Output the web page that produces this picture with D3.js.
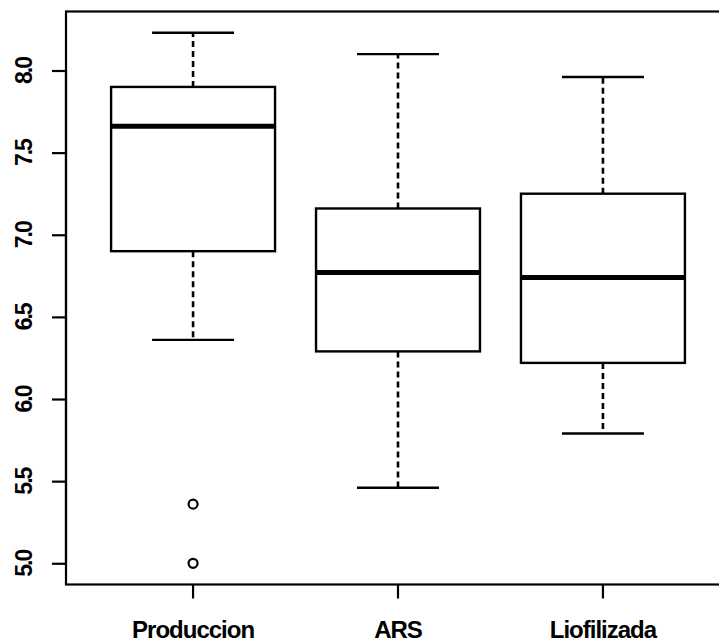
<!DOCTYPE html>
<html>
<head>
<meta charset="utf-8">
<script src="https://cdn.jsdelivr.net/npm/d3@7"></script>
<style>
  body { margin: 0; background: #fff; }
  text { font-family: "Liberation Sans", Arial, sans-serif; fill: #000; }
</style>
</head>
<body>
<svg id="chart" width="719" height="644"></svg>
<script>
// values
var categories = ['Produccion', 'ARS', 'Liofilizada'];
var whiskerLow = [6.36, 5.46, 5.79];
var q1 = [6.90, 6.29, 6.22];
var median = [7.66, 6.77, 6.74];
var q3 = [7.90, 7.16, 7.25];
var whiskerHigh = [8.23, 8.10, 7.96];
var outliers = [[5.36, 5.00], [], []];
var yTicks = [5.0, 5.5, 6.0, 6.5, 7.0, 7.5, 8.0];

var svg = d3.select('#chart');

var plot = {l: 66, r: 730, t: 11.5, b: 584.5};

var boxes = categories.map(function(c, i) {
  return {cat: c, lo: whiskerLow[i], q1: q1[i], med: median[i], q3: q3[i], hi: whiskerHigh[i], out: outliers[i]};
});

// R style 4% extension of the data range
var allVals = d3.merge([whiskerLow, whiskerHigh, d3.merge(outliers)]);
var ext = d3.extent(allVals);
var pad = (ext[1] - ext[0]) * 0.04;

var x = d3.scaleBand().domain(categories).range([plot.l, plot.r])
  .paddingInner(0.2).paddingOuter(0.22);
var y = d3.scaleLinear().domain([ext[0] - pad, ext[1] + pad]).range([plot.b, plot.t]);

var bw = x.bandwidth();
function cx(d) { return x(d.cat) + bw / 2; }

// frame
svg.append('rect')
  .attr('x', plot.l).attr('y', plot.t)
  .attr('width', plot.r - plot.l).attr('height', plot.b - plot.t)
  .attr('fill', 'none').attr('stroke', '#000').attr('stroke-width', 2.2);

var g = svg.selectAll('.box').data(boxes).enter().append('g').attr('class', 'box');

// whiskers (dashed)
g.append('line')
  .attr('x1', cx).attr('x2', cx)
  .attr('y1', function(d) { return y(d.q3); }).attr('y2', function(d) { return y(d.hi); })
  .attr('stroke', '#000').attr('stroke-width', 2.6).attr('stroke-dasharray', '6,4');
g.append('line')
  .attr('x1', cx).attr('x2', cx)
  .attr('y1', function(d) { return y(d.q1); }).attr('y2', function(d) { return y(d.lo); })
  .attr('stroke', '#000').attr('stroke-width', 2.6).attr('stroke-dasharray', '6,4');

// staples
g.append('line')
  .attr('x1', function(d) { return cx(d) - bw / 4; }).attr('x2', function(d) { return cx(d) + bw / 4; })
  .attr('y1', function(d) { return y(d.hi); }).attr('y2', function(d) { return y(d.hi); })
  .attr('stroke', '#000').attr('stroke-width', 2.4);
g.append('line')
  .attr('x1', function(d) { return cx(d) - bw / 4; }).attr('x2', function(d) { return cx(d) + bw / 4; })
  .attr('y1', function(d) { return y(d.lo); }).attr('y2', function(d) { return y(d.lo); })
  .attr('stroke', '#000').attr('stroke-width', 2.4);

// box
g.append('rect')
  .attr('x', function(d) { return x(d.cat); })
  .attr('y', function(d) { return y(d.q3); })
  .attr('width', bw)
  .attr('height', function(d) { return y(d.q1) - y(d.q3); })
  .attr('fill', '#fff').attr('stroke', '#000').attr('stroke-width', 2.4);

// median
g.append('line')
  .attr('x1', function(d) { return x(d.cat); }).attr('x2', function(d) { return x(d.cat) + bw; })
  .attr('y1', function(d) { return y(d.med); }).attr('y2', function(d) { return y(d.med); })
  .attr('stroke', '#000').attr('stroke-width', 5);

// outliers
g.selectAll('circle').data(function(d) { return d.out.map(function(v) { return {cat: d.cat, v: v}; }); })
  .enter().append('circle')
  .attr('cx', cx).attr('cy', function(d) { return y(d.v); })
  .attr('r', 4.5).attr('fill', 'none').attr('stroke', '#000').attr('stroke-width', 2.2);

// y axis
var yAxis = d3.axisLeft(y).tickValues(yTicks).tickSize(14).tickFormat(d3.format('.1f'));
var ya = svg.append('g').attr('transform', 'translate(' + plot.l + ',0)').call(yAxis);
ya.select('.domain').attr('d', 'M0,' + y(5) + 'V' + y(8)).attr('stroke-width', 2.2);
ya.selectAll('.tick line').attr('stroke-width', 2.2);
ya.selectAll('.tick text').remove();
ya.selectAll('.tick').append('text')
  .attr('transform', 'translate(-42,0) rotate(-90)')
  .attr('text-anchor', 'middle')
  .attr('dy', '0.36em')
  .style('font-size', '23px').style('font-weight', 'bold').style('letter-spacing', '-2px')
  .text(function(d) { return d3.format('.1f')(d); });

// x axis
var xAxis = d3.axisBottom(x).tickSize(14).tickSizeOuter(0);
var xa = svg.append('g').attr('transform', 'translate(0,' + plot.b + ')').call(xAxis);
xa.select('.domain').remove();
xa.selectAll('.tick line').attr('stroke-width', 2.2);
xa.selectAll('.tick text')
  .attr('y', 53).attr('dy', 0)
  .style('font-size', '24px').style('font-weight', 'bold').style('letter-spacing', '-1px');
</script>
</body>
</html>
